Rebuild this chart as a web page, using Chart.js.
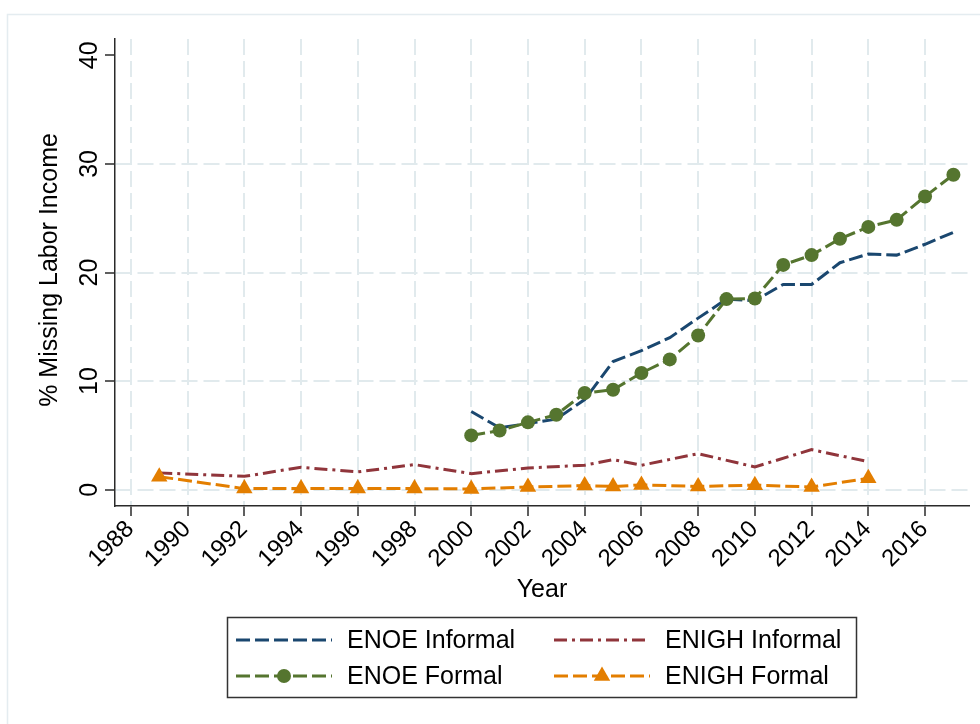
<!DOCTYPE html>
<html>
<head>
<meta charset="utf-8">
<script src="https://cdn.jsdelivr.net/npm/chart.js@4.4.1/dist/chart.umd.min.js"></script>
<style>
  html, body { margin: 0; padding: 0; background: #fff; }
  canvas { display: block; }
</style>
</head>
<body>
<canvas id="chart" width="980" height="724"></canvas>
<script>
// values (% missing labor income)
const enoeYears = [2000, 2001, 2002, 2003, 2004, 2005, 2006, 2007, 2008, 2009, 2010, 2011, 2012, 2013, 2014, 2015, 2016, 2017];
const enoeInformal = [7.2, 5.7, 6.1, 6.5, 8.3, 11.8, 12.8, 14.0, 15.8, 17.55, 17.4, 18.9, 18.9, 20.9, 21.7, 21.6, 22.6, 23.7];
const enoeFormal = [5.0, 5.45, 6.2, 6.9, 8.9, 9.2, 10.75, 12.0, 14.2, 17.55, 17.6, 20.7, 21.6, 23.1, 24.2, 24.85, 27.0, 29.0];

const enighYears = [1989, 1992, 1994, 1996, 1998, 2000, 2002, 2004, 2005, 2006, 2008, 2010, 2012, 2014];
const enighInformal = [1.55, 1.23, 2.06, 1.64, 2.31, 1.48, 2.0, 2.26, 2.77, 2.25, 3.32, 2.1, 3.69, 2.58];
const enighFormal = [1.2, 0.1, 0.1, 0.1, 0.1, 0.07, 0.25, 0.38, 0.3, 0.44, 0.3, 0.42, 0.25, 1.05];

const xTicks = [1988, 1990, 1992, 1994, 1996, 1998, 2000, 2002, 2004, 2006, 2008, 2010, 2012, 2014, 2016];
const yTicks = [0, 10, 20, 30, 40];

const FONT = '"Liberation Sans", Arial, sans-serif';
const gridColor = '#e1eaed';
const axisColor = '#2a2a2a';

const pts = (xs, ys) => xs.map((x, i) => ({ x: x, y: ys[i] }));

// text, frame and legend drawn Stata-style on top of the chart
const stataDecor = {
  id: 'stataDecor',
  beforeDraw(chart) {
    const ctx = chart.ctx;
    ctx.save();
    ctx.fillStyle = '#fff';
    ctx.fillRect(0, 0, chart.width, chart.height);
    ctx.strokeStyle = '#e4ecf0';
    ctx.lineWidth = 1.5;
    ctx.strokeRect(7.5, 14.5, chart.width + 20, chart.height + 20);
    ctx.restore();
  },
  afterDraw(chart) {
    const ctx = chart.ctx;
    const xs = chart.scales.x, ys = chart.scales.y;
    ctx.save();
    ctx.fillStyle = '#000';

    // y tick labels, vertical
    ctx.font = '25px ' + FONT;
    ctx.textAlign = 'center';
    ctx.textBaseline = 'alphabetic';
    ys.ticks.forEach(t => {
      ctx.save();
      ctx.translate(97, ys.getPixelForValue(t.value));
      ctx.rotate(-Math.PI / 2);
      ctx.fillText(String(t.value), 0, 0);
      ctx.restore();
    });

    // x tick labels at 45 degrees
    ctx.font = '24px ' + FONT;
    ctx.textAlign = 'right';
    xs.ticks.forEach(t => {
      ctx.save();
      ctx.translate(xs.getPixelForValue(t.value) + 4, 530);
      ctx.rotate(-Math.PI / 4);
      ctx.fillText(String(t.value), 0, 0);
      ctx.restore();
    });

    // axis titles
    ctx.font = '25px ' + FONT;
    ctx.textAlign = 'center';
    ctx.fillText('Year', (chart.chartArea.left + chart.chartArea.right) / 2, 597);
    ctx.save();
    ctx.translate(57, 270);
    ctx.rotate(-Math.PI / 2);
    ctx.fillText('% Missing Labor Income', 0, 0);
    ctx.restore();

    // legend
    const box = { x: 227, y: 617, w: 629, h: 80 };
    ctx.strokeStyle = '#333';
    ctx.lineWidth = 1.5;
    ctx.strokeRect(box.x + 0.5, box.y + 0.5, box.w, box.h);
    const cols = [236, 554], rows = [640, 676], len = 96;
    ctx.font = '25px ' + FONT;
    ctx.textAlign = 'left';
    ctx.textBaseline = 'middle';
    chart.data.datasets.forEach((ds, i) => {
      const x0 = cols[i % 2], y0 = rows[Math.floor(i / 2)];
      ctx.save();
      ctx.strokeStyle = ds.borderColor;
      ctx.lineWidth = ds.borderWidth;
      ctx.setLineDash(ds.borderDash);
      ctx.beginPath();
      ctx.moveTo(x0, y0);
      ctx.lineTo(x0 + len, y0);
      ctx.stroke();
      ctx.restore();
      if (ds.pointRadius > 0) {
        const cx = x0 + len / 2, r = ds.pointRadius;
        ctx.fillStyle = ds.backgroundColor;
        ctx.beginPath();
        if (ds.pointStyle === 'triangle') {
          ctx.moveTo(cx, y0 - r);
          ctx.lineTo(cx + 0.866 * r, y0 + 0.5 * r);
          ctx.lineTo(cx - 0.866 * r, y0 + 0.5 * r);
          ctx.closePath();
        } else {
          ctx.arc(cx, y0, r, 0, Math.PI * 2);
        }
        ctx.fill();
      }
      ctx.fillStyle = '#000';
      ctx.fillText(ds.label, x0 + 111, y0 + 1);
    });
    ctx.restore();
  }
};

new Chart(document.getElementById('chart'), {
  type: 'line',
  data: {
    datasets: [
      {
        label: 'ENOE Informal',
        data: pts(enoeYears, enoeInformal),
        borderColor: '#1a476f',
        backgroundColor: '#1a476f',
        borderWidth: 3,
        borderDash: [14, 5],
        pointRadius: 0,
        order: 4
      },
      {
        label: 'ENIGH Informal',
        data: pts(enighYears, enighInformal),
        borderColor: '#90353b',
        backgroundColor: '#90353b',
        borderWidth: 3,
        borderDash: [13, 5, 3, 5],
        pointRadius: 0,
        order: 3
      },
      {
        label: 'ENOE Formal',
        data: pts(enoeYears, enoeFormal),
        borderColor: '#55752f',
        backgroundColor: '#55752f',
        borderWidth: 3,
        borderDash: [14, 5],
        pointStyle: 'circle',
        pointRadius: 7,
        pointBorderWidth: 0,
        order: 2
      },
      {
        label: 'ENIGH Formal',
        data: pts(enighYears, enighFormal),
        borderColor: '#e37e00',
        backgroundColor: '#e37e00',
        borderWidth: 3,
        borderDash: [14, 5],
        pointStyle: 'triangle',
        pointRadius: 9.5,
        pointBorderWidth: 0,
        order: 1
      }
    ]
  },
  options: {
    responsive: false,
    devicePixelRatio: 1,
    animation: false,
    layout: {
      autoPadding: false,
      padding: { left: 105, top: 39, right: 11, bottom: 208 }
    },
    plugins: {
      legend: { display: false },
      tooltip: { enabled: false }
    },
    scales: {
      x: {
        type: 'linear',
        min: 1987.44,
        max: 2017.55,
        afterBuildTicks: s => { s.ticks = xTicks.map(v => ({ value: v })); },
        ticks: { display: false },
        grid: {
          color: gridColor,
          lineWidth: 2,
          tickLength: 10,
          tickColor: axisColor,
          tickWidth: 1.5,
          tickBorderDash: []
        },
        border: { display: true, color: axisColor, width: 1.5, dash: [16, 6] }
      },
      y: {
        type: 'linear',
        min: -1.5,
        max: 41.5,
        afterBuildTicks: s => { s.ticks = yTicks.map(v => ({ value: v })); },
        ticks: { display: false },
        grid: {
          color: c => (c.tick && c.tick.value === 40) ? 'rgba(0,0,0,0)' : gridColor,
          lineWidth: 2,
          tickLength: 10,
          tickColor: axisColor,
          tickWidth: 1.5,
          tickBorderDash: []
        },
        border: { display: true, color: axisColor, width: 1.5, dash: [16, 6] }
      }
    }
  },
  plugins: [stataDecor]
});
</script>
</body>
</html>
